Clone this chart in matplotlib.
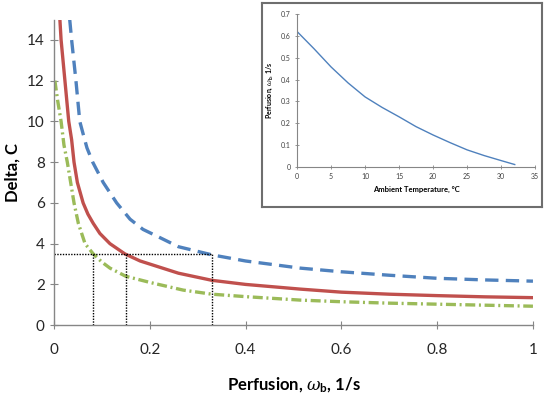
import matplotlib
matplotlib.use("Agg")
import matplotlib.pyplot as plt
from matplotlib.ticker import FuncFormatter

plt.rcParams['font.family'] = ['Lato', 'DejaVu Sans']
plt.rcParams['mathtext.fontset'] = 'dejavuserif'

# Main chart data
red_x = [0.0125, 0.015, 0.023, 0.031, 0.037, 0.042, 0.049, 0.061, 0.071, 0.082, 0.096, 0.117, 0.148, 0.18, 0.22, 0.26, 0.33, 0.4, 0.514, 0.6, 0.7, 0.8, 0.9, 1.0]
red_y = [15, 14, 12, 10, 9.1, 8, 7, 6, 5.45, 5, 4.5, 4.0, 3.5, 3.15, 2.85, 2.55, 2.2, 2.0, 1.77, 1.62, 1.52, 1.45, 1.39, 1.35]

blue_x = [0.033, 0.037, 0.046, 0.054, 0.062, 0.069, 0.081, 0.103, 0.131, 0.159, 0.186, 0.221, 0.26, 0.33, 0.4, 0.514, 0.6, 0.7, 0.8, 0.9, 1.0]
blue_y = [15, 14, 12, 10, 9.3, 8.7, 8, 7, 6, 5.2, 4.7, 4.3, 3.85, 3.45, 3.15, 2.8, 2.62, 2.45, 2.3, 2.22, 2.16]

green_x = [0.002, 0.008, 0.015, 0.021, 0.028, 0.042, 0.051, 0.065, 0.082, 0.1, 0.117, 0.15, 0.2, 0.27, 0.33, 0.4, 0.514, 0.6, 0.7, 0.8, 0.9, 1.0]
green_y = [12, 11, 10, 8.84, 8, 6, 5, 4, 3.5, 3.1, 2.8, 2.4, 2.1, 1.72, 1.52, 1.4, 1.23, 1.15, 1.08, 1.03, 0.98, 0.93]

ref_delta = 3.5
ref_x = [0.082, 0.15, 0.33]

x_ticks = [0, 0.2, 0.4, 0.6, 0.8, 1.0]
y_ticks = [0, 2, 4, 6, 8, 10, 12, 14]

# Inset data
temp = [0, 2.5, 5, 7.5, 10, 12.5, 15, 17.5, 20, 22.5, 25, 27.5, 30, 32]
perf = [0.62, 0.541, 0.458, 0.385, 0.321, 0.273, 0.23, 0.185, 0.147, 0.112, 0.079, 0.053, 0.03, 0.012]

fig = plt.figure(figsize=(5.5, 3.98), dpi=100)
ax = fig.add_axes([0.098, 0.183, 0.871, 0.768])

gray = '#868686'
ax.plot(blue_x, blue_y, color='#4F81BD', lw=2.4, dashes=(4, 2.2))
ax.plot(red_x, red_y, color='#C0504D', lw=2.4)
ax.plot(green_x, green_y, color='#9BBB59', lw=2.4, dashes=(3, 1.1, 0.6, 1.1))

ax.plot([0, ref_x[-1]], [ref_delta, ref_delta], color='black', lw=1, ls=(0, (1, 1)))
for xv in ref_x:
    ax.plot([xv, xv], [0, ref_delta], color='black', lw=1, ls=(0, (1, 1)))

ax.set_xlim(0, 1)
ax.set_ylim(0, 15)
ax.set_xticks(x_ticks)
ax.set_yticks(y_ticks)
ax.xaxis.set_major_formatter(FuncFormatter(lambda v, p: f"{v:g}"))
for s in ['top', 'right']:
    ax.spines[s].set_visible(False)
for s in ['left', 'bottom']:
    ax.spines[s].set_color(gray)
    ax.spines[s].set_linewidth(1)
ax.tick_params(axis='both', direction='inout', length=6, color=gray, labelsize=11, labelcolor='#262626')
ax.tick_params(axis='x', pad=10)
ax.set_xlabel(r"Perfusion, $\omega_\mathregular{b}$, 1/s", fontsize=12, fontweight='bold', labelpad=13)
ax.set_ylabel("Delta, C", fontsize=12, fontweight='bold', labelpad=5)

# Inset frame
frame = fig.add_axes([0.476, 0.48, 0.509, 0.512])
frame.set_xticks([]); frame.set_yticks([])
for s in frame.spines.values():
    s.set_color('#6e6e6e'); s.set_linewidth(1.5)
frame.patch.set_facecolor('white')

ins = fig.add_axes([0.54, 0.58, 0.433, 0.385])
ins.plot(temp, perf, color='#4F81BD', lw=1)
ins.set_xlim(0, 35)
ins.set_ylim(0, 0.7)
ins.set_xticks([0, 5, 10, 15, 20, 25, 30, 35])
ins.set_yticks([0, 0.1, 0.2, 0.3, 0.4, 0.5, 0.6, 0.7])
ins.yaxis.set_major_formatter(FuncFormatter(lambda v, p: f"{v:g}"))
for s in ['top', 'right']:
    ins.spines[s].set_visible(False)
for s in ['left', 'bottom']:
    ins.spines[s].set_color(gray)
    ins.spines[s].set_linewidth(0.8)
ins.tick_params(axis='both', direction='inout', length=3, width=0.6, color=gray, labelsize=5, labelcolor='#404040', pad=3)
ins.set_xlabel("Ambient Temperature, °C", fontsize=5.5, fontweight='bold', labelpad=4)
ins.set_ylabel(r"Perfusion, $\omega_\mathregular{b}$, 1/s", fontsize=5, fontweight='bold', labelpad=4)

fig.savefig("out.png", dpi=100)
